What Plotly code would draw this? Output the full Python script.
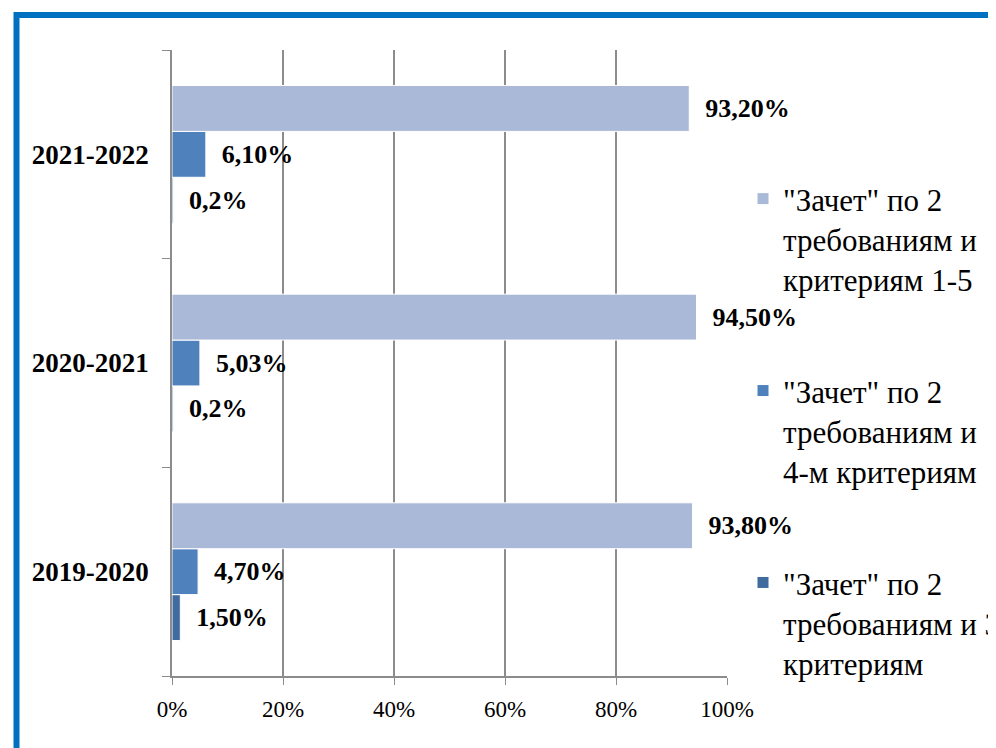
import plotly.graph_objects as go

years = ["2019-2020", "2020-2021", "2021-2022"]
series_names = [
    "\"Зачет\" по 2<br>требованиям и 3<br>критериям",
    "\"Зачет\" по 2<br>требованиям и<br>4-м критериям",
    "\"Зачет\" по 2<br>требованиям и<br>критериям 1-5",
]
crit3 = [1.5, 0.2, 0.2]
crit4 = [4.7, 5.03, 6.1]
crit15 = [93.8, 94.5, 93.2]
labels3 = ["1,50%", "0,2%", "0,2%"]
labels4 = ["4,70%", "5,03%", "6,10%"]
labels15 = ["93,80%", "94,50%", "93,20%"]
colors = ["#3F6B9F", "#4F81BD", "#AAB9D7"]
ranks = [3, 2, 1]
x_ticks = [0, 20, 40, 60, 80, 100]
x_ticklabels = ["0%", "20%", "40%", "60%", "80%", "100%"]

SERIF = "Liberation Serif"

fig = go.Figure()
for name, vals, labs, col, rk in zip(series_names, [crit3, crit4, crit15],
                                     [labels3, labels4, labels15], colors, ranks):
    fig.add_trace(go.Bar(
        y=years, x=vals, orientation="h", name=name,
        marker=dict(color=col, line=dict(color="#FFFFFF", width=1)),
        text=["\u00a0\u00a0" + t for t in labs],
        textposition="outside", cliponaxis=False, constraintext="none",
        textfont=dict(family=SERIF, size=26, color="#000000", weight="bold"),
        legendgroup=name, legendrank=rk,
    ))

# page offset of 8 px (body margin) compensated
OFF = 8
W, H = 996 - OFF, 748 - OFF
L, R_EDGE, T, B_EDGE = 172 - OFF, 727 - OFF, 50 - OFF, 676 - OFF
pw, ph = R_EDGE - L, B_EDGE - T

def px(x):
    return (x - OFF - L) / pw

def py(y):
    return (B_EDGE - (y - OFF)) / ph

fig.add_shape(type="rect", xref="paper", yref="paper",
              x0=px(16.5), x1=px(1030), y0=py(790), y1=py(15),
              line=dict(color="#0070C0", width=6), layer="above")

fig.update_layout(
    width=W, height=H,
    margin=dict(l=L, r=W - R_EDGE, t=T, b=H - B_EDGE, autoexpand=False),
    paper_bgcolor="#FFFFFF", plot_bgcolor="#FFFFFF",
    barmode="group", bargap=0.34, bargroupgap=0,
    font=dict(family=SERIF, color="#000000"),
    showlegend=True,
    legend=dict(
        x=px(743), xanchor="left", y=py(172), yanchor="top",
        traceorder="grouped", tracegroupgap=68, valign="top",
        font=dict(family=SERIF, size=31, color="#000000"),
        bgcolor="rgba(0,0,0,0)", itemwidth=30,
    ),
    xaxis=dict(
        range=[0, 100], tickvals=x_ticks, ticktext=x_ticklabels,
        showgrid=True, gridcolor="#8C8C8C", gridwidth=1.5,
        showline=True, linecolor="#8C8C8C", linewidth=1.5,
        ticks="outside", ticklen=7, tickcolor="#8C8C8C",
        tickfont=dict(family=SERIF, size=23, color="#000000"),
        ticklabelstandoff=5,
        zeroline=False, fixedrange=True,
    ),
    yaxis=dict(
        categoryorder="array", categoryarray=years,
        showline=True, linecolor="#8C8C8C", linewidth=1.5,
        ticks="outside", ticklen=8, tickcolor="#8C8C8C", tickson="boundaries",
        tickfont=dict(family=SERIF, size=27, color="#000000", weight="bold"),
        ticklabelstandoff=16,
        showgrid=False, fixedrange=True,
    ),
)

fig.write_html("out.html")
